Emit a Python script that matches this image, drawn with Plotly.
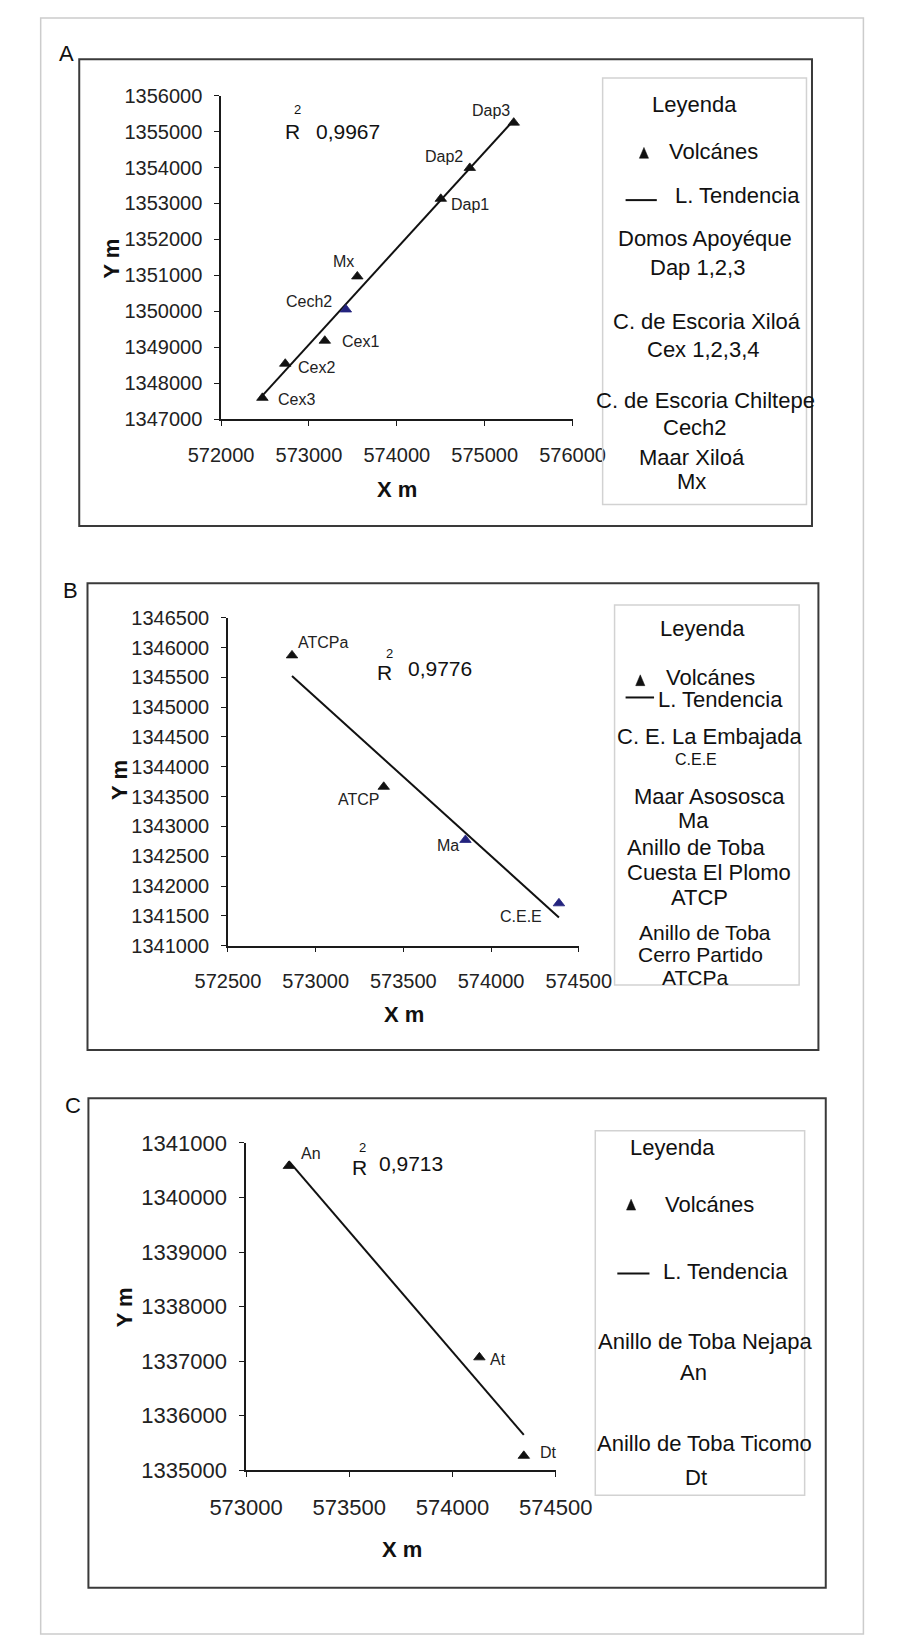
import numpy as np
import plotly.graph_objects as go

W, H = 905, 1652
FONT = "Arial, Liberation Sans, sans-serif"

# ---------------- data ----------------
# A: Domos Apoyéque / Xiloá / Chiltepe
a_names = ["Dap3", "Dap2", "Dap1", "Mx", "Cech2", "Cex1", "Cex2", "Cex3"]
a_x = [575330, 574830, 574500, 573550, 573420, 573180, 572730, 572470]
a_y = [1355250, 1353990, 1353130, 1350970, 1350050, 1349180, 1348540, 1347590]
a_r2 = "0,9967"
a_xticks = [572000, 573000, 574000, 575000, 576000]
a_yticks = [1347000, 1348000, 1349000, 1350000, 1351000, 1352000, 1353000,
            1354000, 1355000, 1356000]
a_notes = ["Domos Apoyéque", "Dap 1,2,3", "C. de Escoria Xiloá", "Cex 1,2,3,4",
           "C. de Escoria Chiltepe", "Cech2", "Maar Xiloá", "Mx"]

# B: La Embajada / Asososca / Cuesta El Plomo / Cerro Partido
b_names = ["ATCPa", "ATCP", "Ma", "C.E.E"]
b_x = [572865, 573388, 573854, 574387]
b_y = [1345868, 1343664, 1342773, 1341710]
b_r2 = "0,9776"
b_xticks = [572500, 573000, 573500, 574000, 574500]
b_yticks = [1341000, 1341500, 1342000, 1342500, 1343000, 1343500, 1344000,
            1344500, 1345000, 1345500, 1346000, 1346500]
b_notes = ["C. E. La Embajada", "C.E.E", "Maar Asososca", "Ma", "Anillo de Toba",
           "Cuesta El Plomo", "ATCP", "Anillo de Toba", "Cerro Partido", "ATCPa"]

# C: Nejapa / Ticomo
c_names = ["An", "At", "Dt"]
c_x = [573207, 574130, 574345]
c_y = [1340578, 1337070, 1335265]
c_r2 = "0,9713"
c_xticks = [573000, 573500, 574000, 574500]
c_yticks = [1335000, 1336000, 1337000, 1338000, 1339000, 1340000, 1341000]
c_notes = ["Anillo de Toba Nejapa", "An", "Anillo de Toba Ticomo", "Dt"]

blue_points = ["Cech2", "Ma", "C.E.E"]

legend_title = "Leyenda"
legend_marker = "Volcánes"
legend_line = "L. Tendencia"
x_title = "X m"
y_title = "Y m"

# ---------------- layout (pixel geometry) ----------------
panels = [
    dict(letter="A", names=a_names, x=a_x, y=a_y, r2=a_r2,
         xticks=a_xticks, yticks=a_yticks, notes=a_notes,
         plot=(200.5, 85, 583.3, 413.3), tickfont=20,
         box=(46, 48, 844, 522), letter_pos=(32, 42),
         legend_box=(616, 67, 838, 500),
         legend_title_pos=(716, 94),
         tri_pos=(661, 143.5), vol_pos=(686, 142),
         line_pos=(641, 675, 191), tend_pos=(693, 186),
         note_pos=[(728, 230), (719, 259), (730, 314), (726, 343),
                   (728, 394), (717, 422), (713, 452), (713, 477)],
         note_size=[22] * 8,
         r_pos=(278, 121), two_pos=(284, 99), r2_pos=(339, 121),
         xt_pos=(392, 485), yt_pos=(81, 250),
         offsets=[(-23, -12), (-26, -11), (29, 6), (-14, -15), (-37, -8),
                  (36, 1), (31, 4), (34, 2)]),
    dict(letter="B", names=b_names, x=b_x, y=b_y, r2=b_r2,
         xticks=b_xticks, yticks=b_yticks, notes=b_notes,
         plot=(208, 615, 590, 948), tickfont=20,
         box=(55, 580, 851, 1054), letter_pos=(36, 587),
         legend_box=(629, 602, 830, 988),
         legend_title_pos=(725, 626),
         tri_pos=(657, 679), vol_pos=(683, 676),
         line_pos=(641, 672, 696), tend_pos=(674, 698),
         note_pos=[(732, 736), (718, 759), (732, 797), (715, 821), (718, 848),
                   (732, 874), (722, 899), (727, 935), (723, 957), (717, 980)],
         note_size=[22, 16, 22, 22, 22, 22, 22, 21, 21, 21],
         r_pos=(378, 671), two_pos=(384, 651), r2_pos=(439, 667),
         xt_pos=(400, 1018), yt_pos=(89, 780),
         offsets=[(31, -13), (-25, 13), (-17, 6), (-38, 13)]),
    dict(letter="C", names=c_names, x=c_x, y=c_y, r2=c_r2,
         xticks=c_xticks, yticks=c_yticks, notes=c_notes,
         plot=(227.7, 1148.3, 565, 1480.7), tickfont=22,
         box=(56, 1103, 859, 1600), letter_pos=(39, 1110),
         legend_box=(608, 1136, 836, 1506),
         legend_title_pos=(692, 1153),
         tri_pos=(647, 1211.5), vol_pos=(682, 1211),
         line_pos=(632, 667, 1281), tend_pos=(680, 1279),
         note_pos=[(728, 1350), (715, 1381), (727, 1453), (718, 1488)],
         note_size=[22] * 4,
         r_pos=(351, 1173), two_pos=(355, 1153), r2_pos=(407, 1169),
         xt_pos=(397, 1561), yt_pos=(95, 1315),
         offsets=[(22, -12), (19, 2), (25, -3)]),
]


def fx(px):
    return px / W


def fy(py):
    return 1 - py / H


fig = go.Figure()
annotations = []
shapes = []

# page frame
shapes.append(dict(type="rect", xref="paper", yref="paper",
                   x0=fx(4), x1=fx(900), y0=fy(6), y1=fy(1647),
                   line=dict(color="#cccccc", width=1.5), layer="below"))


def txt(text, px, py, size, xanchor="center", bold=False, angle=0, color="#111"):
    if bold:
        text = "<b>" + text + "</b>"
    annotations.append(dict(text=text, x=fx(px), y=fy(py), xref="paper",
                            yref="paper", showarrow=False, xanchor=xanchor,
                            yanchor="middle", textangle=angle,
                            font=dict(family=FONT, size=size, color=color)))


for i, p in enumerate(panels):
    sfx = "" if i == 0 else str(i + 1)
    xa, ya = "x" + sfx, "y" + sfx
    x0, y0, x1, y1 = p["plot"]

    common = dict(showgrid=False, zeroline=False, showline=True,
                  linecolor="#1a1a1a", linewidth=1.5, ticks="outside",
                  ticklen=5, tickwidth=1.3, tickcolor="#1a1a1a",
                  tickformat="d",
                  tickfont=dict(family=FONT, size=p["tickfont"], color="#222"))
    fig.layout["xaxis" + sfx] = dict(
        domain=[fx(x0), fx(x1)], anchor=ya,
        range=[p["xticks"][0], p["xticks"][-1]],
        tickvals=p["xticks"], ticklabelstandoff=12, **common)
    fig.layout["yaxis" + sfx] = dict(
        domain=[fy(y1), fy(y0)], anchor=xa,
        range=[p["yticks"][0], p["yticks"][-1]],
        tickvals=p["yticks"], ticklabelstandoff=8, **common)

    # linear trend line (least squares)
    slope, intercept = np.polyfit(p["x"], p["y"], 1)
    tx = np.array([min(p["x"]), max(p["x"])], dtype=float)
    fig.add_trace(go.Scatter(x=tx, y=slope * tx + intercept, mode="lines",
                             line=dict(color="#111", width=2),
                             xaxis=xa, yaxis=ya, showlegend=False,
                             hoverinfo="skip"))

    # volcano markers
    colors = ["#23237e" if n in blue_points else "#111" for n in p["names"]]
    fig.add_trace(go.Scatter(x=p["x"], y=p["y"], mode="markers",
                             marker=dict(symbol="triangle-up", size=10,
                                         color=colors,
                                         line=dict(width=0.8, color=colors)),
                             xaxis=xa, yaxis=ya, showlegend=False,
                             text=p["names"]))

    # point labels
    for name, vx, vy, (dx, dy) in zip(p["names"], p["x"], p["y"], p["offsets"]):
        annotations.append(dict(text=name, x=vx, y=vy, xref=xa, yref=ya,
                                showarrow=False, xshift=dx, yshift=-dy,
                                xanchor="center", yanchor="middle",
                                font=dict(family=FONT, size=16, color="#222")))

    # R² label
    txt("R", *p["r_pos"], 21)
    txt("2", *p["two_pos"], 13)
    txt(p["r2"], *p["r2_pos"], 21)

    # axis titles
    txt(x_title, *p["xt_pos"], 22, bold=True)
    txt(y_title, *p["yt_pos"], 22, bold=True, angle=-90)

    # panel frame and letter
    bx0, by0, bx1, by1 = p["box"]
    shapes.append(dict(type="rect", xref="paper", yref="paper",
                       x0=fx(bx0), x1=fx(bx1), y0=fy(by1), y1=fy(by0),
                       line=dict(color="#3a3a3a", width=2)))
    txt(p["letter"], *p["letter_pos"], 22)

    # legend block
    lx0, ly0, lx1, ly1 = p["legend_box"]
    shapes.append(dict(type="rect", xref="paper", yref="paper",
                       x0=fx(lx0), x1=fx(lx1), y0=fy(ly1), y1=fy(ly0),
                       line=dict(color="#d2d2d2", width=1.5)))
    txt(legend_title, *p["legend_title_pos"], 22)
    cx, cy = p["tri_pos"]
    shapes.append(dict(type="path", xref="paper", yref="paper",
                       path=f"M {fx(cx - 5)} {fy(cy + 5)} L {fx(cx + 5)} {fy(cy + 5)} "
                            f"L {fx(cx)} {fy(cy - 6)} Z",
                       fillcolor="#111", line=dict(color="#111", width=0.5)))
    txt(legend_marker, *p["vol_pos"], 22, xanchor="left")
    lx_a, lx_b, ly = p["line_pos"]
    shapes.append(dict(type="line", xref="paper", yref="paper",
                       x0=fx(lx_a), x1=fx(lx_b), y0=fy(ly), y1=fy(ly),
                       line=dict(color="#111", width=2)))
    txt(legend_line, *p["tend_pos"], 22, xanchor="left")
    for note, (nx, ny), ns in zip(p["notes"], p["note_pos"], p["note_size"]):
        txt(note, nx, ny, ns)

fig.update_layout(width=W, height=H, autosize=False,
                  margin=dict(l=0, r=0, t=0, b=0),
                  paper_bgcolor="white", plot_bgcolor="white",
                  showlegend=False, annotations=annotations, shapes=shapes)

fig.write_html("out.html")
